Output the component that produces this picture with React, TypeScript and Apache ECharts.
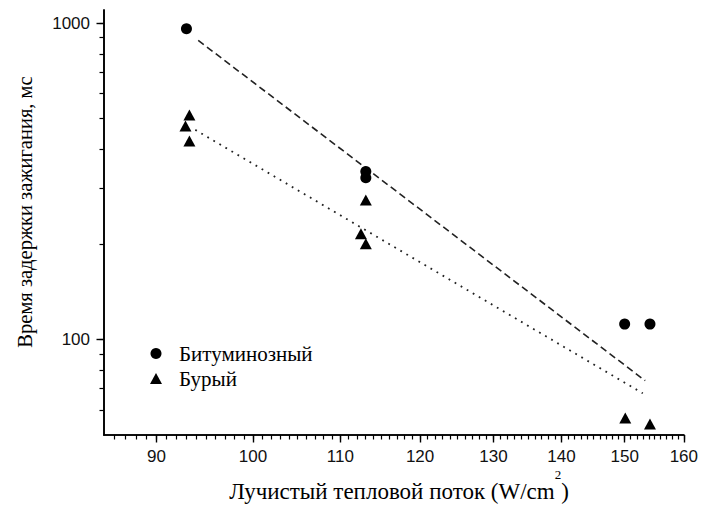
import React, { useEffect, useRef } from "react";
import * as echarts from "echarts";

// ---- data ----
const bituminousX = [93.0, 113.1, 113.1, 150.0, 154.2];
const bituminousY = [960, 340, 325, 112, 112];

const brownX = [93.3, 92.9, 93.3, 113.1, 112.5, 113.1, 150.1, 154.2];
const brownY = [513, 473, 424, 276, 216, 201, 56.6, 54.2];

const dashedFitX = [94.2, 153.4];
const dashedFitY = [882, 74.2];

const dottedFitX = [93.9, 153.0];
const dottedFitY = [460, 67.7];

const xMajorTicks = [90, 100, 110, 120, 130, 140, 150, 160];
const xAllTicks: number[] = [];
for (let v = 86; v <= 160; v++) xAllTicks.push(v);

const yMajorTicks = [100, 1000];
const yAllTicks = [60, 70, 80, 90, 100, 200, 300, 400, 500, 600, 700, 800, 900, 1000];

const seriesNames = ["Битуминозный", "Бурый"];
const xTitle = "Лучистый тепловой поток (W/cm";
const yTitle = "Время задержки зажигания, мс";

const zip = (xs: number[], ys: number[]) => xs.map((x, i) => [x, ys[i]]);

export default function App() {
  const ref = useRef<HTMLDivElement>(null);
  useEffect(() => {
    if (!ref.current) return;
    const chart = echarts.init(ref.current, null, { renderer: "svg" });
    const ink = "#000";
    const sans = "Liberation Sans";
    const serif = "Liberation Serif";
    const axisLine = { show: true, lineStyle: { color: ink, width: 1.6 } };
    const baseX = {
      type: "log" as const,
      min: 85,
      max: 160,
      position: "bottom" as const,
      splitLine: { show: false },
      axisLine,
    };
    const baseY = {
      type: "log" as const,
      min: 50,
      max: 1100,
      position: "left" as const,
      splitLine: { show: false },
      axisLine,
    };
    const labelStyle = {
      fontFamily: sans,
      fontSize: 17,
      color: "#111",
      formatter: (v: number) => String(Math.round(v)),
    };
    chart.setOption({
      animation: false,
      backgroundColor: "#ffffff",
      grid: { left: 104, right: 17, top: 10, bottom: 82 },
      xAxis: [
        {
          ...baseX,
          axisTick: { show: true, length: 4.5, customValues: xAllTicks, lineStyle: { color: ink, width: 1.2 } },
          axisLabel: { show: false },
        },
        {
          ...baseX,
          axisTick: { show: true, length: 7.5, customValues: xMajorTicks, lineStyle: { color: ink, width: 1.4 } },
          axisLabel: { ...labelStyle, customValues: xMajorTicks, margin: 13 },
        },
      ],
      yAxis: [
        {
          ...baseY,
          axisTick: { show: true, length: 4.5, customValues: yAllTicks, lineStyle: { color: ink, width: 1.2 } },
          axisLabel: { show: false },
        },
        {
          ...baseY,
          axisTick: { show: true, length: 7.5, customValues: yMajorTicks, lineStyle: { color: ink, width: 1.4 } },
          axisLabel: { ...labelStyle, customValues: yMajorTicks, margin: 14 },
        },
      ],
      legend: {
        data: [
          { name: seriesNames[0], icon: "circle" },
          { name: seriesNames[1], icon: "triangle" },
        ],
        orient: "vertical",
        left: 145,
        top: 338,
        itemWidth: 12,
        itemHeight: 11,
        itemGap: 4,
        textStyle: { fontFamily: serif, fontSize: 21, color: "#000", padding: [0, 0, 0, 12] },
      },
      graphic: [
        {
          type: "text",
          x: 25,
          y: 212,
          rotation: Math.PI / 2,
          style: {
            text: yTitle,
            fontFamily: serif,
            fontSize: 20.5,
            fill: "#000",
            align: "center",
            verticalAlign: "middle",
          },
        },
        {
          type: "text",
          x: 399,
          y: 491,
          style: {
            text: "{a|" + xTitle + "}{s|2}{a|)}",
            align: "center",
            verticalAlign: "middle",
            rich: {
              a: { fontFamily: serif, fontSize: 23, lineHeight: 46, fill: "#000" },
              s: { fontFamily: serif, fontSize: 13, lineHeight: 13, verticalAlign: "top", fill: "#000" },
            },
          },
        },
      ],
      series: [
        {
          name: seriesNames[0],
          type: "scatter",
          data: zip(bituminousX, bituminousY),
          symbol: "circle",
          symbolSize: 11,
          itemStyle: { color: ink, opacity: 1 },
          z: 5,
        },
        {
          name: seriesNames[1],
          type: "scatter",
          data: zip(brownX, brownY),
          symbol: "triangle",
          symbolSize: [12, 11],
          itemStyle: { color: ink, opacity: 1 },
          z: 5,
        },
        {
          name: "fit1",
          type: "line",
          data: zip(dashedFitX, dashedFitY),
          showSymbol: false,
          symbol: "none",
          lineStyle: { color: "#222", width: 1.6, type: [7, 4] },
          silent: true,
        },
        {
          name: "fit2",
          type: "line",
          data: zip(dottedFitX, dottedFitY),
          showSymbol: false,
          symbol: "none",
          lineStyle: { color: "#222", width: 1.8, type: [1.8, 5.2] },
          silent: true,
        },
      ],
    });
    return () => chart.dispose();
  }, []);
  return (
    <div
      ref={ref}
      style={{ position: "fixed", left: 0, top: 0, width: 701, height: 517, background: "#fff" }}
    />
  );
}
